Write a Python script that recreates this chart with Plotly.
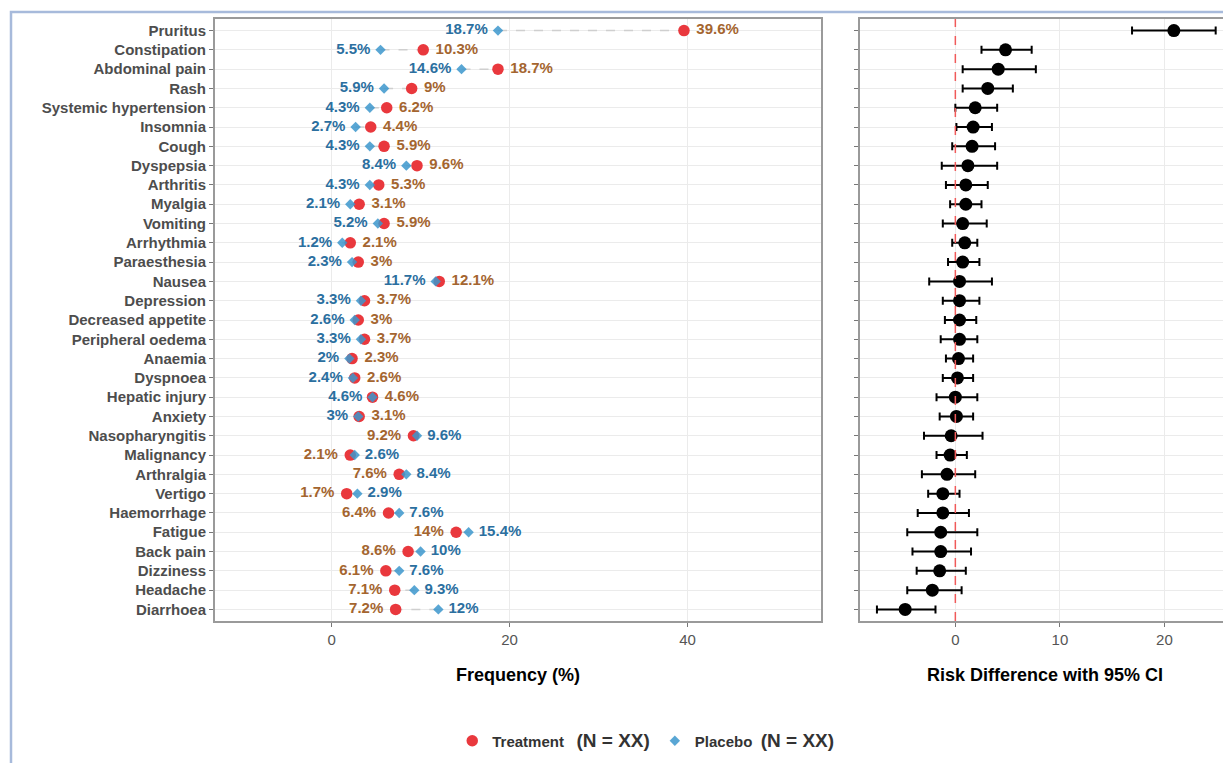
import plotly.graph_objects as go

W, H = 1223, 763

categories = ["Pruritus", "Constipation", "Abdominal pain", "Rash", "Systemic hypertension",
              "Insomnia", "Cough", "Dyspepsia", "Arthritis", "Myalgia", "Vomiting",
              "Arrhythmia", "Paraesthesia", "Nausea", "Depression", "Decreased appetite",
              "Peripheral oedema", "Anaemia", "Dyspnoea", "Hepatic injury", "Anxiety",
              "Nasopharyngitis", "Malignancy", "Arthralgia", "Vertigo", "Haemorrhage",
              "Fatigue", "Back pain", "Dizziness", "Headache", "Diarrhoea"]

treatment = [39.6, 10.3, 18.7, 9, 6.2, 4.4, 5.9, 9.6, 5.3, 3.1, 5.9, 2.1, 3, 12.1, 3.7, 3,
             3.7, 2.3, 2.6, 4.6, 3.1, 9.2, 2.1, 7.6, 1.7, 6.4, 14, 8.6, 6.1, 7.1, 7.2]
placebo = [18.7, 5.5, 14.6, 5.9, 4.3, 2.7, 4.3, 8.4, 4.3, 2.1, 5.2, 1.2, 2.3, 11.7, 3.3, 2.6,
           3.3, 2, 2.4, 4.6, 3, 9.6, 2.6, 8.4, 2.9, 7.6, 15.4, 10, 7.6, 9.3, 12]

risk_diff = [20.9, 4.8, 4.1, 3.1, 1.9, 1.7, 1.6, 1.2, 1.0, 1.0, 0.7, 0.9, 0.7, 0.4, 0.4, 0.4,
             0.4, 0.3, 0.2, 0.0, 0.1, -0.4, -0.5, -0.8, -1.2, -1.2, -1.4, -1.4, -1.5, -2.2, -4.8]
ci_low = [16.9, 2.5, 0.7, 0.7, 0.0, 0.1, -0.3, -1.3, -0.9, -0.5, -1.2, -0.3, -0.7, -2.5, -1.2,
          -1.0, -1.4, -0.9, -1.2, -1.8, -1.5, -3.0, -1.8, -3.2, -2.6, -3.6, -4.6, -4.1, -3.7,
          -4.6, -7.5]
ci_high = [24.9, 7.3, 7.7, 5.5, 4.0, 3.5, 3.8, 4.0, 3.1, 2.5, 3.0, 2.1, 2.3, 3.5, 2.3, 2.0,
           2.1, 1.7, 1.7, 2.1, 1.7, 2.6, 1.1, 1.9, 0.4, 1.3, 2.1, 1.5, 1.0, 0.6, -1.9]

freq_ticks = [0, 20, 40]
rd_ticks = [0, 10, 20]

FONT = "Liberation Sans, Arial, sans-serif"
RED = "#e9383d"
BLUE = "#3c97cc"
RED_TXT = "#a4652f"
BLUE_TXT = "#2b6f9f"
NB = "\u00a0"

# label side: lower value on the left, higher on the right
t_pos, p_pos, t_txt, p_txt = [], [], [], []
for t, p in zip(treatment, placebo):
    if t >= p:
        t_pos.append("middle right"); p_pos.append("middle left")
        t_txt.append(f"{NB}{t:g}%"); p_txt.append(f"{p:g}%{NB}")
    else:
        t_pos.append("middle left"); p_pos.append("middle right")
        t_txt.append(f"{t:g}%{NB}"); p_txt.append(f"{NB}{p:g}%")

seg_x, seg_y = [], []
for c, t, p in zip(categories, treatment, placebo):
    seg_x += [p, t, None]
    seg_y += [c, c, None]

fig = go.Figure()

fig.add_trace(go.Scatter(x=seg_x, y=seg_y, mode="lines", xaxis="x", yaxis="y",
                         line=dict(color="#cfcfcf", width=1.5, dash="dash"),
                         showlegend=False, hoverinfo="skip"))

fig.add_trace(go.Scatter(
    x=treatment, y=categories, mode="markers+text", xaxis="x", yaxis="y",
    name="<b>Treatment</b>   <span style='font-size:19px'><b>(N = XX)</b></span>",
    marker=dict(color=RED, size=11.5, symbol="circle"),
    text=t_txt, textposition=t_pos,
    textfont=dict(color=RED_TXT, size=15, family=FONT, weight="bold"),
))

fig.add_trace(go.Scatter(
    x=placebo, y=categories, mode="markers+text", xaxis="x", yaxis="y",
    name="<b>Placebo</b>  <span style='font-size:19px'><b>(N = XX)</b></span>",
    marker=dict(color=BLUE, size=8, symbol="diamond", opacity=0.85),
    text=p_txt, textposition=p_pos,
    textfont=dict(color=BLUE_TXT, size=15, family=FONT, weight="bold"),
))

fig.add_trace(go.Scatter(
    x=risk_diff, y=categories, mode="markers", xaxis="x2", yaxis="y2",
    marker=dict(color="black", size=13),
    error_x=dict(type="data", symmetric=False,
                 array=[h - r for h, r in zip(ci_high, risk_diff)],
                 arrayminus=[r - l for r, l in zip(risk_diff, ci_low)],
                 color="black", thickness=2, width=4),
    showlegend=False,
))

y_dom = [1 - 621 / H, 1 - 19 / H]
axis_common = dict(showline=True, linecolor="#9a9a9a", linewidth=2, mirror=True,
                   gridcolor="#ebebeb", gridwidth=1, zeroline=False,
                   ticks="outside", ticklen=4, tickcolor="#777",
                   tickfont=dict(family=FONT, size=15, color="#555"))

fig.update_layout(
    width=W, height=H,
    margin=dict(l=0, r=0, t=0, b=0),
    paper_bgcolor="white", plot_bgcolor="white",
    font=dict(family=FONT),
    xaxis=dict(domain=[215 / W, 821 / W], range=[-13.1, 55.0], tickvals=freq_ticks,
               automargin=False, **axis_common),
    xaxis2=dict(domain=[860 / W, 1.0], range=[-9.12, 25.6], tickvals=rd_ticks,
                automargin=False, anchor="y2", **axis_common),
    yaxis=dict(domain=y_dom, type="category", categoryorder="array", categoryarray=categories,
               range=[30.6, -0.6], automargin=False,
               **{**axis_common, "tickfont": dict(family=FONT, size=15, color="#4d4d4d",
                                                  weight="bold")}),
    yaxis2=dict(domain=y_dom, type="category", categoryorder="array", categoryarray=categories,
                range=[30.6, -0.6], anchor="x2", showticklabels=False, automargin=False,
                **axis_common),
    legend=dict(orientation="h", x=0.528, y=1 - 741 / H, xanchor="center", yanchor="middle",
                font=dict(family=FONT, size=15, color="#333"), bgcolor="rgba(0,0,0,0)",
                itemsizing="trace"),
    shapes=[
        dict(type="line", xref="x2", yref="y2 domain", x0=0, x1=0, y0=0, y1=1,
             line=dict(color="#f05a5a", width=1.5, dash="dash"), layer="above"),
        dict(type="rect", xref="paper", yref="paper", x0=11 / W, x1=1.02, y0=-0.02,
             y1=1 - 12 / H, line=dict(color="#a7badb", width=2.5), layer="below"),
    ],
    annotations=[
        dict(text="<b>Frequency (%)</b>", xref="paper", yref="paper",
             x=518 / W, y=1 - 675 / H, showarrow=False, xanchor="center", yanchor="middle",
             font=dict(family=FONT, size=18, color="black")),
        dict(text="<b>Risk Difference with 95% CI</b>", xref="paper", yref="paper",
             x=1045 / W, y=1 - 675 / H, showarrow=False, xanchor="center", yanchor="middle",
             font=dict(family=FONT, size=18, color="black")),
    ],
)

fig.write_html("out.html")
